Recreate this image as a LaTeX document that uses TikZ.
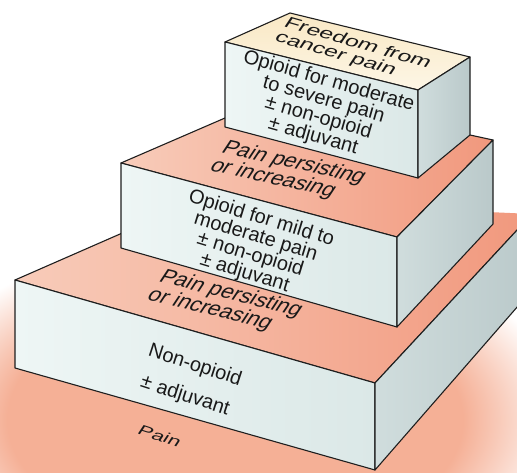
\documentclass[tikz,border=0pt]{standalone}
\usepackage{fontspec}
\setmainfont{Liberation Sans}
\definecolor{frontl}{RGB}{238,246,245}
\definecolor{frontd}{RGB}{219,232,231}
\definecolor{sidel}{RGB}{208,221,221}
\definecolor{sided}{RGB}{186,201,202}
\definecolor{stepl}{RGB}{248,204,186}
\definecolor{stepd}{RGB}{241,152,125}
\definecolor{topl}{RGB}{253,246,230}
\definecolor{topd}{RGB}{249,232,196}
\definecolor{glowc}{RGB}{245,176,150}
\definecolor{edgec}{RGB}{30,30,30}
\pgfdeclareradialshading{glow}{\pgfpoint{0bp}{0bp}}{color(0bp)=(glowc); color(17bp)=(glowc); color(25bp)=(white); color(50bp)=(white)}
\begin{document}
\begin{tikzpicture}[x=1pt,y=-1pt,line join=round,every node/.style={inner sep=0pt,text=black!90}]
\tikzstyle{outline}=[draw=edgec,line width=1.1pt]
\tikzstyle{front}=[left color=frontl,right color=frontd]
\tikzstyle{side}=[left color=sidel,right color=sided]
\tikzstyle{stepface}=[left color=stepl,right color=stepd]
\tikzstyle{topface}=[top color=topd,bottom color=topl]
\tikzstyle{boxtext}=[font=\fontsize{20}{19}\selectfont,align=center]
\tikzstyle{flat}=[font=\fontsize{22}{17}\selectfont,align=left]

\useasboundingbox (0,0) rectangle (517,473);
\clip (0,0) rectangle (517,473);
\shade[shading=glow] (235,420) ellipse [x radius=335,y radius=185];

% bottom step
\coordinate (b0) at (15,280);
\coordinate (b1) at (375,383);
\coordinate (b2) at (375,470);
\coordinate (b3) at (15,368);
\coordinate (b4) at (532,214);
\coordinate (b5) at (532,290);
\coordinate (b6) at (200,199);
\path[stepface] (b0)--(b1)--(b4)--(b6)--cycle;
\path[outline] (b6)--(b0)--(b1)--(b4);
\path[front,outline] (b0)--(b1)--(b2)--(b3)--cycle;
\path[side,outline] (b1)--(b4)--(b5)--(b2)--cycle;

% middle step
\coordinate (m0) at (121,163);
\coordinate (m1) at (397,237);
\coordinate (m2) at (397,327);
\coordinate (m3) at (121,248);
\coordinate (m4) at (493,140);
\coordinate (m5) at (493,224);
\coordinate (m6) at (470,135);
\coordinate (m7) at (225,118);
\path[stepface] (m0)--(m1)--(m4)--(m6)--(m7)--cycle;
\path[outline] (m7)--(m0)--(m1)--(m4)--(m6);
\path[front,outline] (m0)--(m1)--(m2)--(m3)--cycle;
\path[side,outline] (m1)--(m4)--(m5)--(m2)--cycle;

% top step
\coordinate (t0) at (225,42);
\coordinate (t1) at (418,90);
\coordinate (t2) at (418,178);
\coordinate (t3) at (225,127);
\coordinate (t4) at (470,57);
\coordinate (t5) at (470,135);
\coordinate (t6) at (290,13);
\path[topface,outline] (t0)--(t1)--(t4)--(t6)--cycle;
\path[front,outline] (t0)--(t1)--(t2)--(t3)--cycle;
\path[side,outline] (t1)--(t4)--(t5)--(t2)--cycle;

% texts on the front faces
\node[boxtext,rotate=-16] (c3) at (321,109) {Opioid for moderate\\to severe pain\\± non-opioid\\± adjuvant};
\node[boxtext,rotate=-17] (c2) at (253,246) {Opioid for mild to\\moderate pain\\± non-opioid\\± adjuvant};
\node[boxtext,rotate=-18,font=\fontsize{20}{32}\selectfont] (c1) at (190,381) {Non-opioid\\± adjuvant};

% texts lying on the top faces
\node[flat,font=\fontsize{17}{17}\selectfont,cm={1.356,-0.389,0.55,0.83,(0,0)}] (s3) at (353,51) {Freedom from\\cancer pain};
\node[flat,cm={0.976,-0.216,0.55,0.83,(0,0)}] (s2) at (288,172) {Pain persisting\\or increasing};
\node[flat,cm={0.970,-0.242,0.55,0.83,(0,0)}] (s1) at (225,303) {Pain persisting\\or increasing};
\node[flat,font=\fontsize{15}{17}\selectfont,cm={1.379,-0.448,0.55,0.83,(0,0)}] (p0) at (160,436) {Pain};
\end{tikzpicture}
\end{document}
